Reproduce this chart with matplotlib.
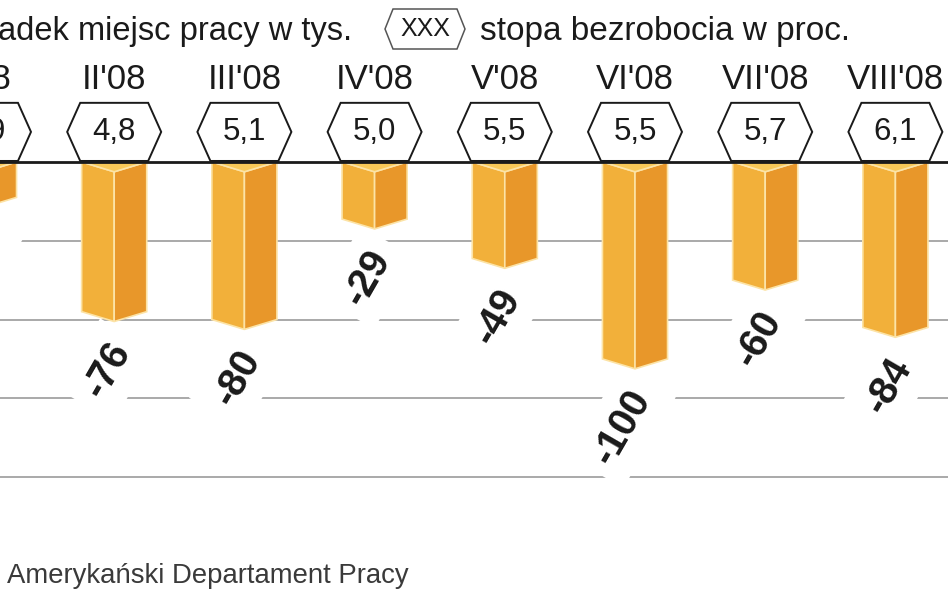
import matplotlib
matplotlib.use("Agg")
import matplotlib.pyplot as plt
from matplotlib.patches import Polygon

plt.rcParams['font.family'] = ['Liberation Sans', 'DejaVu Sans']

# data
months = ["I'08", "II'08", "III'08", "IV'08", "V'08", "VI'08", "VII'08", "VIII'08"]
jobs = [-18, -76, -80, -29, -49, -100, -60, -84]          # tys. miejsc pracy
unemployment = [4.9, 4.8, 5.1, 5.0, 5.5, 5.5, 5.7, 6.1]   # stopa bezrobocia, %
grid_levels = [-40, -80, -120, -160]

fig = plt.figure(figsize=(9.48, 5.93), dpi=100)
ax = fig.add_axes([0, 0, 1, 1])
ax.set_xlim(0.123, 7.404)
ax.set_ylim(-218.8, 82.2)
ax.set_axis_off()

# one pixel in data units
px_x = 1 / 130.2
px_y = 1 / 1.97

bar_hw = 0.25        # half bar width
v_depth = 5          # depth of the 3d "V" at top / bottom
hex_hw = 0.361       # half hexagon width
hex_tip = 0.1        # depth of the hexagon points
hex_y0, hex_y1 = 0.5, 30

c_left = '#F2B03A'
c_right = '#E8972A'
c_top = '#F8C858'
c_edge = '#FCE3A6'

for g in grid_levels:
    ax.axhline(g, color='#a3a3a3', lw=1.3, zorder=1)
ax.axhline(0, color='#1a1a1a', lw=2.0, zorder=2.5)

for i, (m, v, u) in enumerate(zip(months, jobs, unemployment)):
    x0, x1 = i - bar_hw, i + bar_hw
    left = [(x0, 0), (i, -v_depth), (i, v - v_depth), (x0, v)]
    right = [(i, -v_depth), (x1, 0), (x1, v), (i, v - v_depth)]
    top = [(x0, 0), (x1, 0), (i, -v_depth)]
    ax.add_patch(Polygon(left, closed=True, fc=c_left, ec=c_edge, lw=1.2, zorder=2))
    ax.add_patch(Polygon(right, closed=True, fc=c_right, ec=c_edge, lw=1.2, zorder=2))
    ax.add_patch(Polygon(top, closed=True, fc=c_top, ec=c_edge, lw=1.2, zorder=2.2))

    # hexagon with unemployment rate
    mid = (hex_y0 + hex_y1) / 2
    hexpts = [(i - hex_hw + hex_tip, hex_y0), (i + hex_hw - hex_tip, hex_y0),
              (i + hex_hw, mid), (i + hex_hw - hex_tip, hex_y1),
              (i - hex_hw + hex_tip, hex_y1), (i - hex_hw, mid)]
    ax.add_patch(Polygon(hexpts, closed=True, fc='white', ec='#1a1a1a',
                         lw=1.4, zorder=4))
    ax.text(i, mid, f"{u:.1f}".replace('.', ','), ha='center', va='center',
            fontsize=22.5, color='#1a1a1a', zorder=5)

    # month label
    ax.text(i, 41.9, m, ha='center', va='center', fontsize=25,
            color='#1a1a1a', zorder=5)

    # value label, rotated below the bar
    ax.text(i + 7 * px_x, v - 17, f"{v}", rotation=60, rotation_mode='anchor',
            ha='right', va='center', fontsize=28.5, fontweight='bold',
            color='#1a1a1a', zorder=3,
            bbox=dict(fc='white', ec='none', pad=9))

# legend / title row
ax.text(352 / 948, 1 - 40 / 593, "Spadek miejsc pracy w tys.", transform=ax.transAxes,
        ha='right', va='baseline', fontsize=23.5, color='#1a1a1a')
lx0, lx1, ly0, ly1 = 385 / 948, 465 / 948, 1 - 49 / 593, 1 - 9 / 593
ltip = 8 / 948
lmid = (ly0 + ly1) / 2
ax.add_patch(Polygon([(lx0 + ltip, ly0), (lx1 - ltip, ly0), (lx1, lmid),
                      (lx1 - ltip, ly1), (lx0 + ltip, ly1), (lx0, lmid)],
                     closed=True, transform=ax.transAxes, fc='white',
                     ec='#555555', lw=1.1, zorder=4))
ax.text((lx0 + lx1) / 2, lmid, "XXX", transform=ax.transAxes, ha='center',
        va='center', fontsize=18, color='#1a1a1a', zorder=5)
ax.text(480 / 948, 1 - 40 / 593, "stopa bezrobocia w proc.", transform=ax.transAxes,
        ha='left', va='baseline', fontsize=24, color='#1a1a1a')

# source
ax.text(7 / 948, 1 - 583 / 593, "Amerykański Departament Pracy", transform=ax.transAxes,
        ha='left', va='baseline', fontsize=19.8, color='#3a3a3a')

fig.savefig("out.png", dpi=100)
